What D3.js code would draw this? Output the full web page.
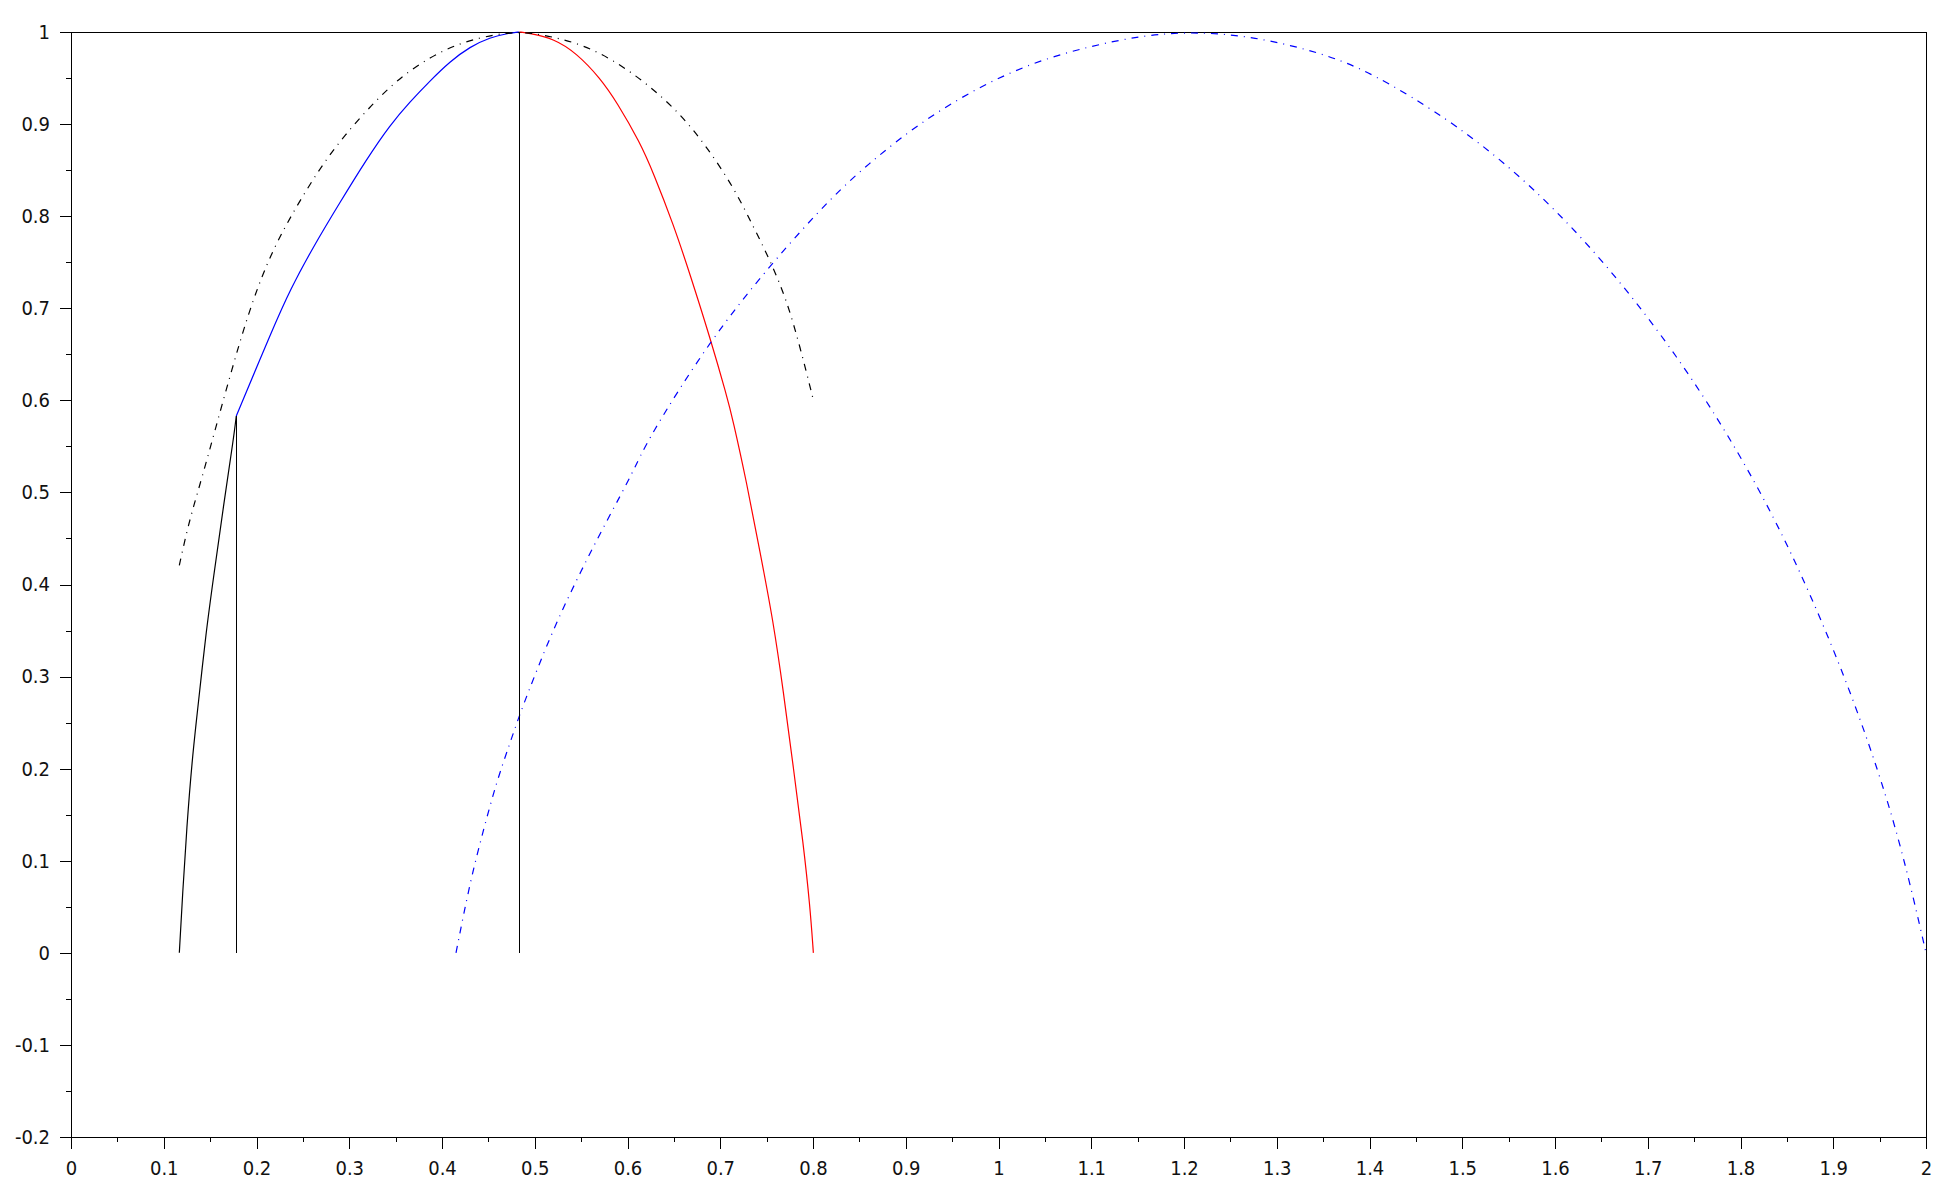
<!DOCTYPE html>
<html>
<head>
<meta charset="utf-8">
<style>
  html, body { margin: 0; padding: 0; background: #fff; }
  svg { display: block; }
  .tick text { font-family: "DejaVu Sans Condensed", "Liberation Sans", sans-serif; font-size: 20px; fill: #111; }
</style>
</head>
<body>
<svg id="chart" width="1946" height="1196"></svg>
<script src="https://cdn.jsdelivr.net/npm/d3@7"></script>
<script>
// tick labels
let xTickLabels = ["0","0.1","0.2","0.3","0.4","0.5","0.6","0.7","0.8","0.9","1","1.1","1.2","1.3","1.4","1.5","1.6","1.7","1.8","1.9","2"]
let yTickLabels = ["-0.2","-0.1","0","0.1","0.2","0.3","0.4","0.5","0.6","0.7","0.8","0.9","1"]

// black solid rise
let riseX = [0.1168, 0.1204, 0.1247, 0.1308, 0.1373, 0.1456, 0.1535, 0.1642, 0.1757, 0.1782]
let riseY = [0.0, 0.0653, 0.1351, 0.2127, 0.2708, 0.3484, 0.4065, 0.4841, 0.5617, 0.583]

// blue solid up to the top
let climbX = [0.1782, 0.2174, 0.2361, 0.2613, 0.2900, 0.3188, 0.3439, 0.3655, 0.3871, 0.4086, 0.4302, 0.4518, 0.4715, 0.4834]
let climbY = [0.583, 0.6775, 0.7199, 0.7669, 0.8150, 0.8620, 0.8990, 0.9243, 0.9470, 0.9680, 0.9840, 0.9942, 0.9986, 1.0]

// red fall
let fallX = [0.4834, 0.4941, 0.5200, 0.5452, 0.5704, 0.5884, 0.6135, 0.6279, 0.6495, 0.6674, 0.6890, 0.7070, 0.7134, 0.7285, 0.7429, 0.7572, 0.7680, 0.7788, 0.7896, 0.7968, 0.8004]
let fallY = [1.0, 0.9986, 0.9931, 0.9770, 0.9500, 0.9240, 0.8800, 0.8470, 0.7910, 0.7370, 0.6680, 0.6050, 0.5800, 0.5107, 0.4353, 0.3598, 0.2844, 0.2013, 0.1183, 0.0504, 0.0]

// black dash-dot arc
let arcX = [0.1168, 0.1247, 0.1319, 0.1409, 0.1534, 0.1732, 0.1912, 0.2110, 0.2307, 0.2505, 0.2720, 0.2954, 0.3224, 0.3512, 0.3871, 0.4230, 0.4590, 0.4834, 0.5057, 0.5488, 0.5847, 0.6207, 0.6566, 0.6854, 0.7141, 0.7357, 0.7536, 0.7716, 0.7860, 0.8004]
let arcY = [0.4209, 0.4570, 0.4841, 0.5151, 0.5606, 0.6330, 0.6946, 0.7489, 0.7886, 0.8230, 0.8574, 0.8882, 0.9189, 0.9479, 0.9732, 0.9895, 0.9978, 1.0, 0.9978, 0.9877, 0.9696, 0.9443, 0.9117, 0.8754, 0.8320, 0.7886, 0.7524, 0.7090, 0.6583, 0.6004]

// blue dash-dot big arc
let bigX = [0.4151, 0.4302, 0.4446, 0.4590, 0.4733, 0.4834, 0.5021, 0.5237, 0.5488, 0.5776, 0.6062, 0.6207, 0.6890, 0.7554, 0.8203, 0.8646, 0.9146, 0.9724, 1.0340, 1.0956, 1.1572, 1.2072, 1.2611, 1.3151, 1.3651, 1.4150, 1.5191, 1.6270, 1.7348, 1.8195, 1.8734, 1.9196, 1.9581, 1.9812, 2.0]
let bigY = [0.0, 0.0768, 0.1333, 0.1862, 0.2278, 0.2580, 0.3069, 0.3598, 0.4127, 0.4693, 0.5221, 0.5560, 0.6656, 0.7489, 0.8212, 0.8610, 0.9008, 0.9370, 0.9660, 0.9840, 0.9967, 1.0, 0.9967, 0.9859, 0.9714, 0.9490, 0.8835, 0.7838, 0.6476, 0.5080, 0.3950, 0.2821, 0.1692, 0.0827, 0.0]

// vertical markers
let markX = [0.1782, 0.4834]
let markTop = [0.583, 1.0]

let svg = d3.select("#chart")
let plotLeft = 71, plotRight = 1926, plotTop = 32, plotBottom = 1137

let x = d3.scaleLinear().domain([0, 2]).range([plotLeft, plotRight])
let y = d3.scaleLinear().domain([-0.2, 1]).range([plotBottom, plotTop])

let xMajor = xTickLabels.map(d => +d)
let yMajor = yTickLabels.map(d => +d)
let xMinor = xMajor.slice(1).map(d => d - 0.05)
let yMinor = yMajor.slice(1).map(d => d - 0.05)

svg.append("rect").attr("width", 1946).attr("height", 1196).attr("fill", "#fff")

// frame
svg.append("rect")
    .attr("x", plotLeft + 0.5).attr("y", plotTop + 0.5)
    .attr("width", plotRight - plotLeft).attr("height", plotBottom - plotTop)
    .attr("fill", "none").attr("stroke", "#000").attr("shape-rendering", "crispEdges")

function styleAxis(g) {
    g.select(".domain").remove()
    g.selectAll(".tick line").attr("stroke", "#000").attr("shape-rendering", "crispEdges")
}

svg.append("g").attr("transform", `translate(0,${plotBottom})`)
    .call(d3.axisBottom(x).tickValues(xMinor).tickSize(5).tickFormat(""))
    .call(styleAxis)
svg.append("g").attr("transform", `translate(0,${plotBottom})`)
    .call(d3.axisBottom(x).tickValues(xMajor).tickSize(12).tickPadding(12)
        .tickFormat((d, i) => xTickLabels[i]))
    .call(styleAxis)

svg.append("g").attr("transform", `translate(${plotLeft},0)`)
    .call(d3.axisLeft(y).tickValues(yMinor).tickSize(5).tickFormat(""))
    .call(styleAxis)
svg.append("g").attr("transform", `translate(${plotLeft},0)`)
    .call(d3.axisLeft(y).tickValues(yMajor).tickSize(11).tickPadding(10)
        .tickFormat((d, i) => yTickLabels[i]))
    .call(styleAxis)

let line = d3.line()
    .x(d => x(d[0]))
    .y(d => y(d[1]))
    .curve(d3.curveBasis)

let series = [
    { xs: riseX, ys: riseY, color: "#000", dash: null },
    { xs: climbX, ys: climbY, color: "#0000ff", dash: null },
    { xs: fallX, ys: fallY, color: "#ff0000", dash: null },
    { xs: arcX, ys: arcY, color: "#000", dash: "7,6,1,6" },
    { xs: bigX, ys: bigY, color: "#0000ff", dash: "7,6,1,6" }
]

svg.selectAll("path.curve")
    .data(series)
    .enter()
    .append("path")
    .attr("class", "curve")
    .attr("d", s => line(s.xs.map((v, i) => [v, s.ys[i]])))
    .attr("fill", "none")
    .attr("stroke", s => s.color)
    .attr("stroke-width", 1.2)
    .attr("stroke-dasharray", s => s.dash)

svg.selectAll("line.mark")
    .data(markX)
    .enter()
    .append("line")
    .attr("class", "mark")
    .attr("x1", d => Math.round(x(d)) + 0.5)
    .attr("x2", d => Math.round(x(d)) + 0.5)
    .attr("y1", y(0))
    .attr("y2", (d, i) => y(markTop[i]))
    .attr("stroke", "#000")
    .attr("shape-rendering", "crispEdges")
</script>
</body>
</html>
